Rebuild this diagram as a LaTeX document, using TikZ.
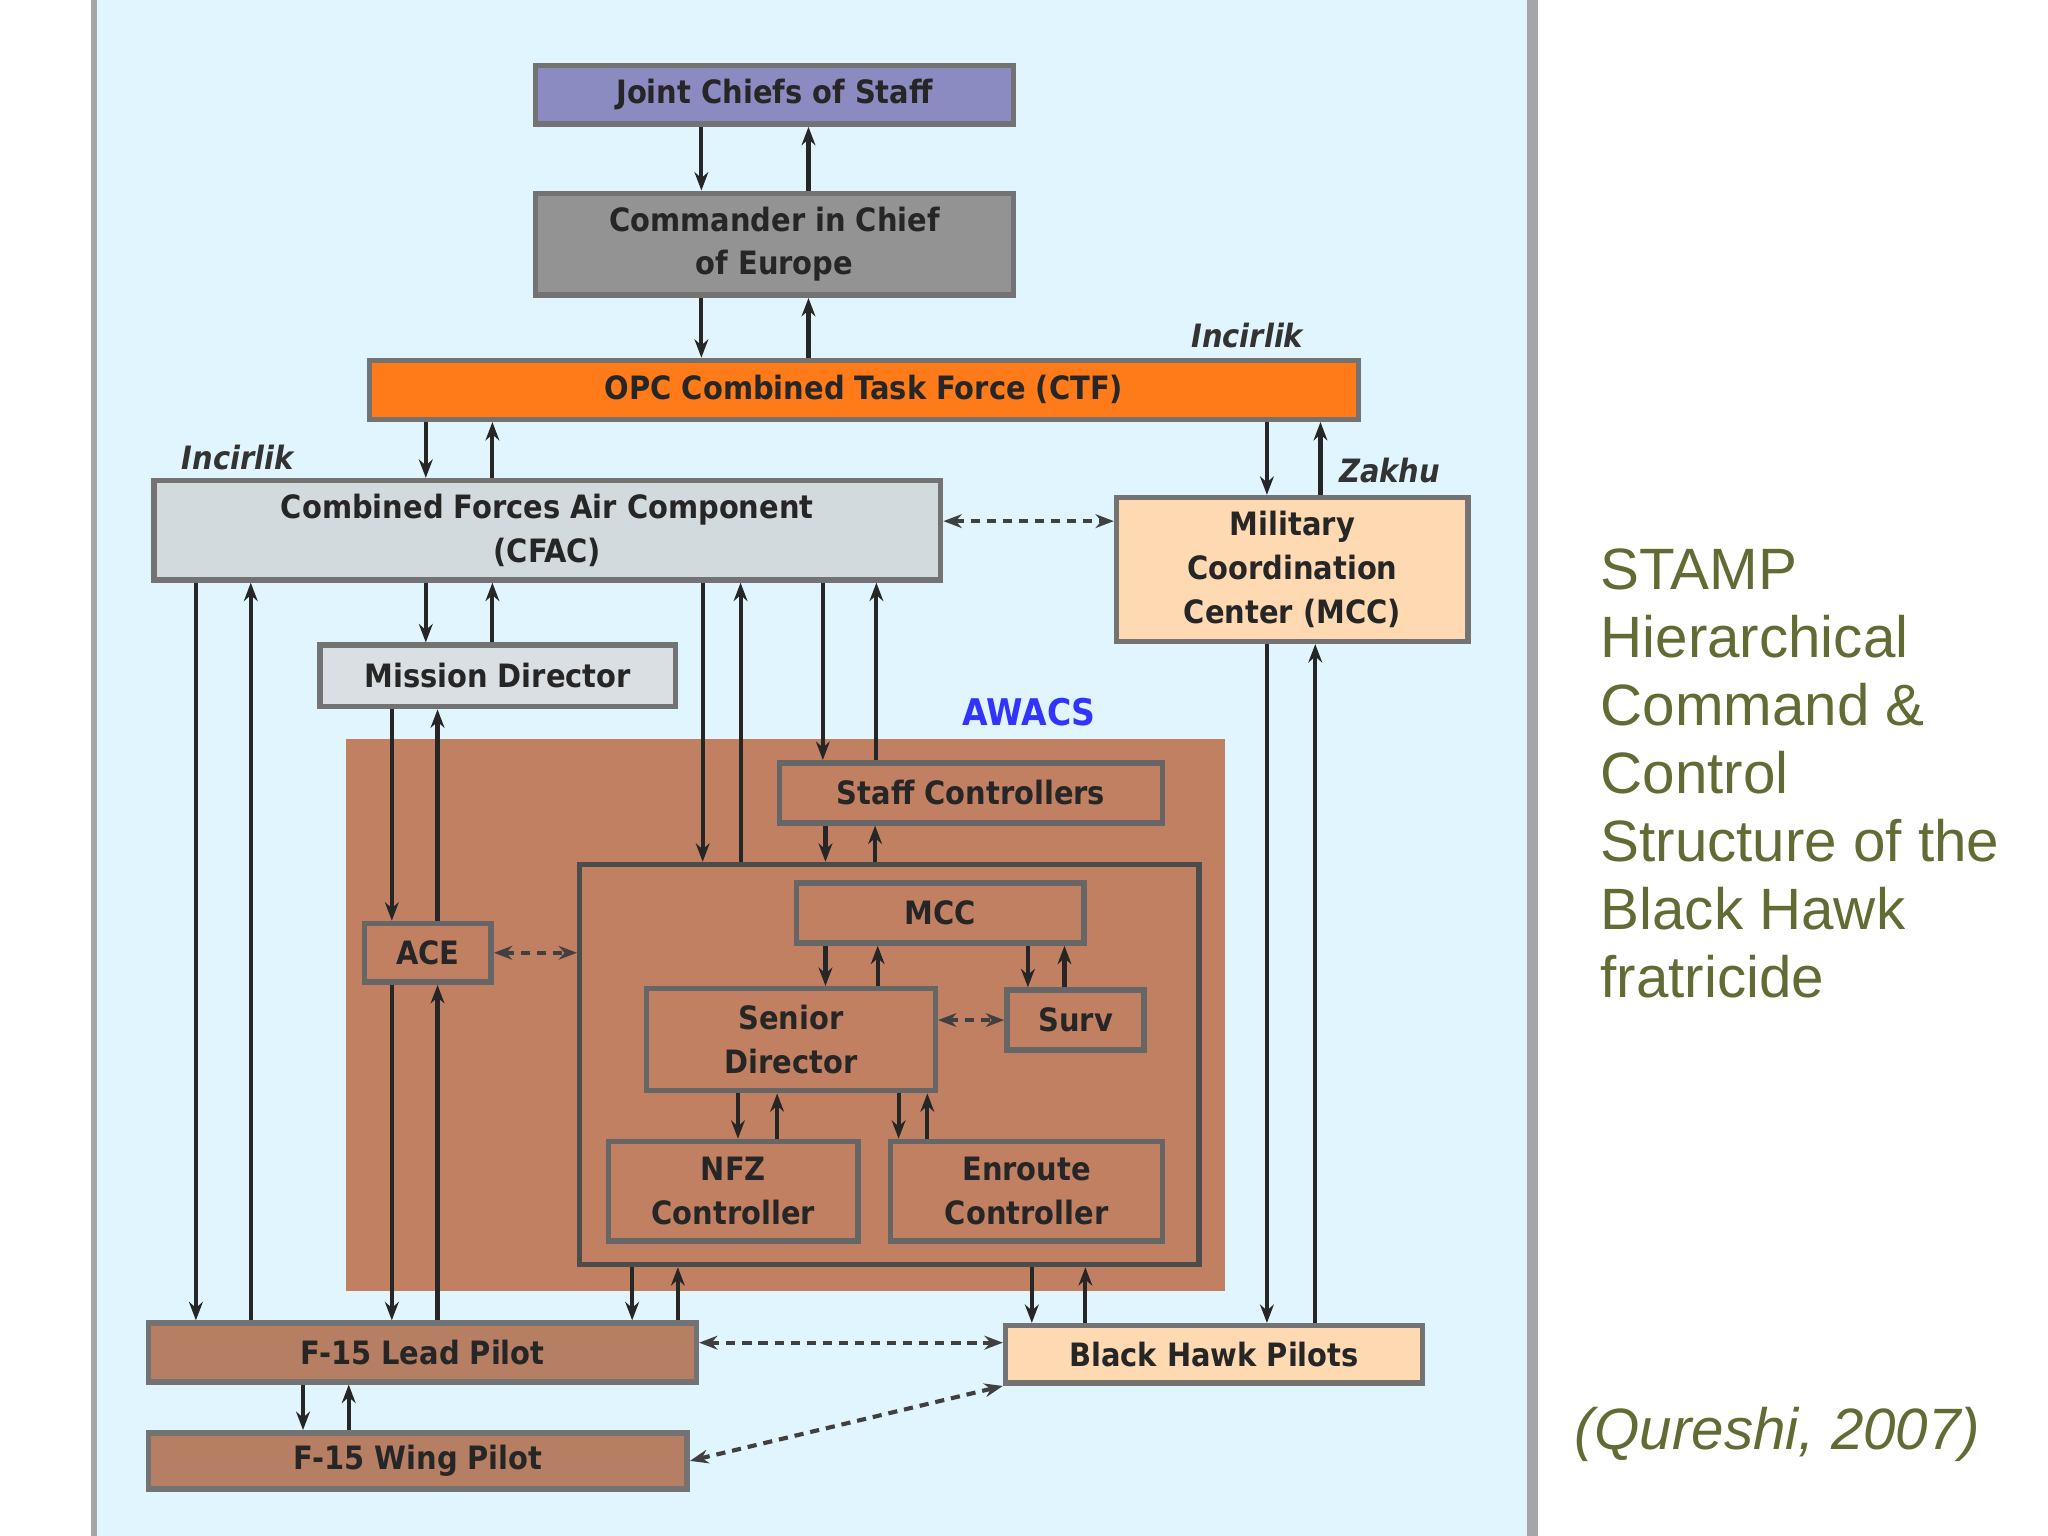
\documentclass[tikz,border=0pt]{standalone}
\usepackage{fontspec}
\setmainfont{Liberation Sans}
\newfontfamily\djsans{DejaVu Sans Condensed}
\usetikzlibrary{arrows.meta}
\begin{document}
\begin{tikzpicture}[x=0.01cm,y=-0.01cm,
  box/.style={draw=black!55,line width=1.2pt,inner sep=0pt,align=center,font=\djsans\bfseries\fontsize{7}{9.5}\selectfont,text=black!85},
  arr/.style={draw=black!85,line width=0.9pt,-{Stealth[length=4pt,width=3pt]}},
  darr/.style={draw=black!75,line width=0.9pt,dash pattern=on 2pt off 1.5pt,{Stealth[length=4pt,width=3pt]}-{Stealth[length=4pt,width=3pt]}},
  loc/.style={font=\djsans\bfseries\itshape\fontsize{7}{9}\selectfont,text=black!80},
  side/.style={font=\fontsize{12.7}{14.8}\selectfont,text=olive!70!green!60!black}]
\useasboundingbox (0,0) rectangle (1568,1176);
\fill[cyan!12] (72,0) rectangle (1173,1176);
\draw[black!35,line width=1.2pt] (72,0) -- (72,1176);
\draw[black!35,line width=2.4pt] (1173,0) -- (1173,1176);
\foreach \x in {150,192,232,267,300,326,335,377,484,519,537,538,565,567,595,619,630,632,670,671,672,688,710,787,790,815,831,970,1007,1011}
  \coordinate (c\x) at (\x,0);
% nodes
\node[box,fill=blue!30!gray!70,minimum width=3.66cm,minimum height=0.45cm] (jcs) at (593,72.5) {Joint Chiefs of Staff};
\node[box,fill=gray!85,minimum width=3.66cm,minimum height=0.78cm] (cinc) at (593,187) {Commander in Chief\\of Europe};
\node[box,fill=orange!85!red!90,minimum width=7.57cm,minimum height=0.45cm] (ctf) at (661.5,298.5) {OPC Combined Task Force (CTF)};
\node[loc] at (955,257) {Incirlik};
\node[loc] at (182,350) {Incirlik};
\node[loc] at (1064,360) {Zakhu};
\node[box,fill=cyan!15!gray!35,minimum width=6.02cm,minimum height=0.76cm] (cfac) at (419,406) {Combined Forces Air Component\\(CFAC)};
\node[box,fill=orange!30,minimum width=2.69cm,minimum height=1.10cm] (mcc) at (989.5,436) {Military\\Coordination\\Center (MCC)};
\node[box,fill=cyan!15!gray!30,minimum width=2.72cm,minimum height=0.47cm] (md) at (381,517.5) {Mission Director};
\node[font=\djsans\bfseries\fontsize{8}{9}\selectfont,text=blue!80] at (788,545) {AWACS};
\node[draw=none,fill=red!25!brown!70!gray!85,minimum width=6.73cm,minimum height=4.22cm,inner sep=0pt] (awacs) at (601.5,777) {};
\tikzset{abox/.style={box,draw=black!60,fill=red!25!brown!70!gray!85}}
\node[abox,minimum width=2.93cm,minimum height=0.46cm] (staff) at (743.5,607) {Staff Controllers};
\node[draw=black!70,line width=1.2pt,minimum width=4.74cm,minimum height=3.06cm,inner sep=0pt] (inner) at (681,815) {};
\node[abox,minimum width=2.20cm,minimum height=0.46cm] (imcc) at (720,699) {MCC};
\node[abox,minimum width=0.97cm,minimum height=0.45cm] (ace) at (327.5,729.5) {ACE};
\node[abox,minimum width=2.21cm,minimum height=0.78cm] (sd) at (605.5,796) {Senior\\Director};
\node[abox,minimum width=1.05cm,minimum height=0.46cm] (surv) at (823.5,781) {Surv};
\node[abox,minimum width=1.91cm,minimum height=0.76cm] (nfz) at (561.5,912) {NFZ\\Controller};
\node[abox,minimum width=2.08cm,minimum height=0.76cm] (enr) at (786,912) {Enroute\\Controller};
\node[box,fill=red!20!brown!60!gray!90,minimum width=4.19cm,minimum height=0.45cm] (lead) at (323.5,1035.5) {F-15 Lead Pilot};
\node[box,fill=orange!30,minimum width=3.19cm,minimum height=0.44cm] (bh) at (929.5,1037) {Black Hawk Pilots};
\node[box,fill=red!20!brown!60!gray!90,minimum width=4.12cm,minimum height=0.43cm] (wing) at (320,1118.5) {F-15 Wing Pilot};
% arrows
\newcommand{\dnarr}[3]{\draw[arr] (#1.south -| c#3) -- (#2.north -| c#3);}
\newcommand{\uparr}[3]{\draw[arr] (#2.north -| c#3) -- (#1.south -| c#3);}
\dnarr{jcs}{cinc}{537} \uparr{jcs}{cinc}{619}
\dnarr{cinc}{ctf}{537} \uparr{cinc}{ctf}{619}
\dnarr{ctf}{cfac}{326} \uparr{ctf}{cfac}{377}
\dnarr{ctf}{mcc}{970} \uparr{ctf}{mcc}{1011}
\dnarr{cfac}{md}{326} \uparr{cfac}{md}{377}
\dnarr{cfac}{lead}{150} \uparr{cfac}{lead}{192}
\dnarr{md}{ace}{300} \uparr{md}{ace}{335}
\dnarr{ace}{lead}{300} \uparr{ace}{lead}{335}
\dnarr{cfac}{inner}{538} \uparr{cfac}{inner}{567}
\dnarr{cfac}{staff}{630} \uparr{cfac}{staff}{671}
\dnarr{staff}{inner}{632} \uparr{staff}{inner}{670}
\dnarr{imcc}{sd}{632} \uparr{imcc}{sd}{672}
\dnarr{imcc}{surv}{787} \uparr{imcc}{surv}{815}
\dnarr{sd}{nfz}{565} \uparr{sd}{nfz}{595}
\dnarr{sd}{enr}{688} \uparr{sd}{enr}{710}
\dnarr{inner}{lead}{484} \uparr{inner}{lead}{519}
\dnarr{inner}{bh}{790} \uparr{inner}{bh}{831}
\dnarr{mcc}{bh}{970} \uparr{mcc}{bh}{1007}
\dnarr{lead}{wing}{232} \uparr{lead}{wing}{267}
\coordinate (y399) at (0,399);
\coordinate (y1028) at (0,1028);
\draw[darr] (cfac.east |- y399) -- (mcc.west |- y399);
\draw[darr] (ace.east) -- (inner.west |- ace.east);
\draw[darr] (sd.east |- surv.west) -- (surv.west);
\draw[darr] (lead.east |- y1028) -- (bh.west |- y1028);
\draw[darr] (wing.east) -- (bh.south west);
% side text
\node[side,anchor=north west,align=left] at (1213,408) {STAMP\\Hierarchical\\Command \&\\Control\\Structure of the\\Black Hawk\\fratricide};
\node[side,font=\itshape\fontsize{12.7}{14.8}\selectfont] at (1361,1098) {(Qureshi, 2007)};
\end{tikzpicture}
\end{document}
